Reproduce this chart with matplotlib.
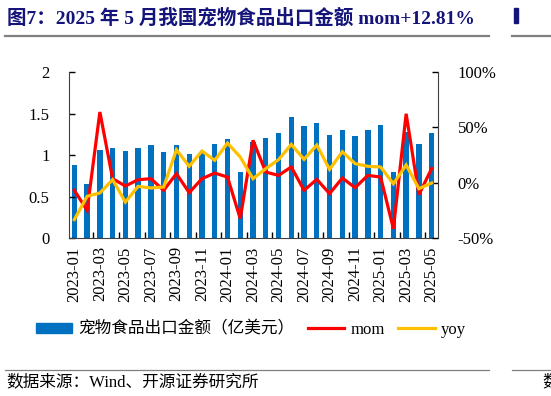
# 2025年5月宠物食品出口金额 — bars + mom/yoy lines
import numpy as np
import matplotlib.pyplot as plt
from matplotlib.patches import Patch, Rectangle
from matplotlib.lines import Line2D

plt.rcParams['font.family'] = ['Liberation Serif', 'Noto Sans CJK SC']
plt.rcParams['axes.unicode_minus'] = False

# data
months = ['2023-01', '2023-02', '2023-03', '2023-04', '2023-05', '2023-06',
          '2023-07', '2023-08', '2023-09', '2023-10', '2023-11', '2023-12',
          '2024-01', '2024-02', '2024-03', '2024-04', '2024-05', '2024-06',
          '2024-07', '2024-08', '2024-09', '2024-10', '2024-11', '2024-12',
          '2025-01', '2025-02', '2025-03', '2025-04', '2025-05']
export_amt = [0.88, 0.655, 1.065, 1.085, 1.053, 1.08, 1.12, 1.033, 1.12, 1.017,
              1.02, 1.137, 1.19, 0.80, 1.16, 1.20, 1.27, 1.46, 1.355, 1.39,
              1.245, 1.30, 1.225, 1.306, 1.36, 0.79, 1.28, 1.13, 1.27]
mom = [-6.9, -25.0, 63.9, 3.6, -3.0, 2.7, 3.6, -6.9, 8.1, -9.0,
       3.6, 8.7, 5.1, -32.5, 38.3, 9.6, 6.6, 14.2, -6.9, 3.0,
       -9.9, 4.2, -4.5, 6.6, 5.1, -41.6, 62.3, -10.8, 12.81]
yoy = [-33.4, -12.3, -9.3, 2.7, -17.5, -3.3, -4.8, -3.9, 29.8, 14.8,
       28.6, 20.2, 35.8, 23.2, 3.6, 12.7, 20.8, 34.6, 21.1, 34.0,
       12.0, 28.0, 17.2, 14.8, 14.2, -0.9, 16.0, -5.4, -0.3]

blue = '#0070C0'
red = '#FF0000'
yellow = '#FFC000'

fig = plt.figure(figsize=(5.51, 3.96), dpi=100)
ax = fig.add_axes([0.1252, 0.399, 0.6698, 0.419])
ax2 = ax.twinx()

x = np.arange(len(months))
ax.bar(x, export_amt, width=0.42, color=blue, zorder=1)
ax2.plot(x, mom, color=red, lw=2.3, solid_joinstyle='miter')
ax2.plot(x, yoy, color=yellow, lw=2.3, solid_joinstyle='miter')

ax.set_xlim(-0.42, 28.5)
ax.set_ylim(0, 2)
ax.set_yticks([0, 0.5, 1, 1.5, 2])
ax.set_yticklabels(['0', '0.5', '1', '1.5', '2'])
ax2.set_ylim(-50, 100)
ax2.set_yticks([-50, 0, 50, 100])
ax2.set_yticklabels([f'{v}%' for v in [-50, 0, 50, 100]])

ax.set_xticks(x[::2])
ax.set_xticklabels(months[::2], rotation=90)
ax.set_xticks(np.arange(1.5, 28, 2), minor=True)
ax.tick_params(axis='x', which='major', length=0, pad=6)
ax.tick_params(axis='x', which='minor', direction='in', length=4, width=1)
ax.tick_params(axis='y', direction='in', length=4, width=1, pad=14)
ax2.tick_params(axis='y', direction='in', length=4, width=1, pad=14)
for a in (ax, ax2):
    a.tick_params(labelsize=12)
    a.spines['top'].set_visible(False)
    for s in ('left', 'right', 'bottom'):
        a.spines[s].set_color('#404040')
ax2.spines['left'].set_visible(False)
ax2.spines['bottom'].set_visible(False)
ax.spines['right'].set_visible(False)

# legend under the chart
handles = [Patch(color=blue), Line2D([], [], color=red, lw=2.3),
           Line2D([], [], color=yellow, lw=2.3)]
labels = ['宠物食品出口金额（亿美元）', 'mom', 'yoy']
fig.legend(handles, labels, loc='center', bbox_to_anchor=(0.455, 0.167), ncol=3,
           frameon=False, fontsize=12, handlelength=2.2, handleheight=0.6,
           columnspacing=0.8, handletextpad=0.35)

# title, source and rules
fig.text(0.012, 0.955, '图7：2025 年 5 月我国宠物食品出口金额 mom+12.81%',
         fontsize=14, fontweight='bold', color='#14147A', va='center')
fig.add_artist(Rectangle((0.932, 0.942), 0.008, 0.038, color='#14147A',
                         transform=fig.transFigure))
fig.add_artist(Line2D([0.009, 0.888], [0.909, 0.909], color='#808080', lw=1.6))
fig.add_artist(Line2D([0.93, 1.0], [0.909, 0.909], color='#808080', lw=1.6))
fig.add_artist(Line2D([0.009, 0.888], [0.066, 0.066], color='#808080', lw=0.9))
fig.add_artist(Line2D([0.93, 1.0], [0.066, 0.066], color='#808080', lw=0.9))
fig.text(0.012, 0.035, '数据来源：Wind、开源证券研究所', fontsize=12, va='center')
fig.text(0.985, 0.035, '数', fontsize=12, va='center')

fig.savefig('out.png', dpi=100)
